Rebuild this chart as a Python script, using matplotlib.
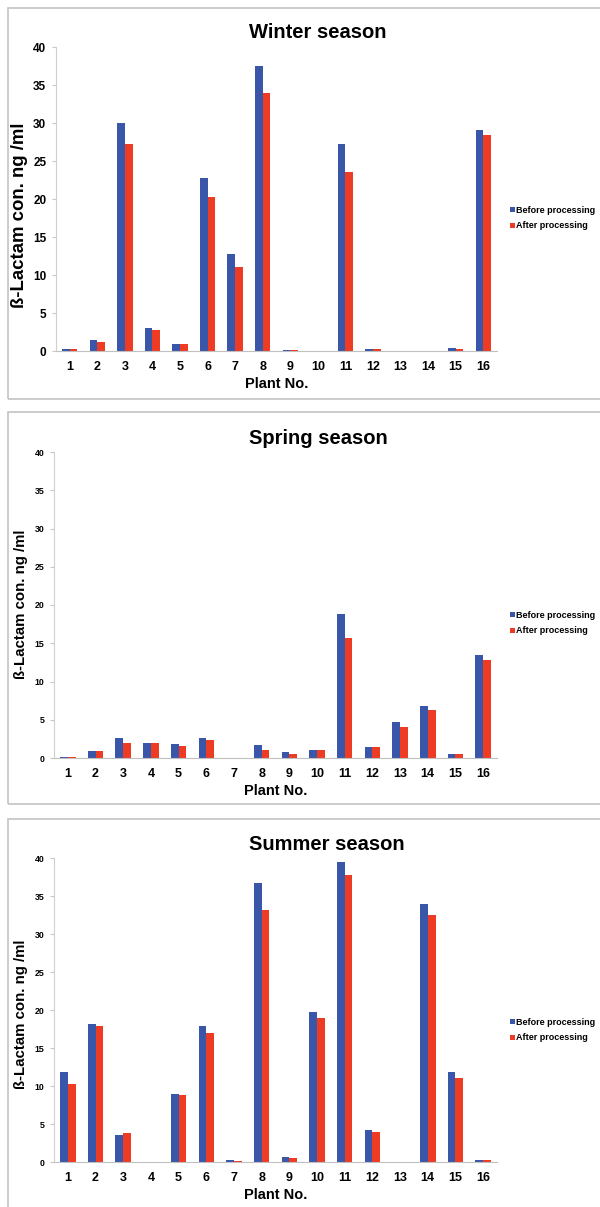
import numpy as np
import matplotlib
matplotlib.use("Agg")
import matplotlib.pyplot as plt
from matplotlib.patches import Rectangle

plt.rcParams['font.family'] = ['Liberation Sans', 'DejaVu Sans']
plt.rcParams['font.weight'] = 'bold'

plants = [str(i) for i in range(1, 17)]
series_names = ['Before processing', 'After processing']

winter_before = [0.2, 1.5, 30.0, 3.0, 0.9, 22.8, 12.7, 37.5, 0.1, 0.0, 27.2, 0.3, 0.0, 0.0, 0.4, 29.1]
winter_after = [0.2, 1.2, 27.3, 2.7, 0.9, 20.3, 11.1, 33.9, 0.1, 0.0, 23.6, 0.25, 0.0, 0.0, 0.25, 28.4]

spring_before = [0.15, 0.9, 2.6, 2.0, 1.8, 2.6, 0.0, 1.7, 0.8, 1.1, 18.8, 1.5, 4.7, 6.8, 0.5, 13.5]
spring_after = [0.15, 0.85, 2.0, 2.0, 1.6, 2.3, 0.0, 1.1, 0.5, 1.0, 15.7, 1.4, 4.0, 6.3, 0.5, 12.8]

summer_before = [11.9, 18.1, 3.6, 0.0, 9.0, 17.9, 0.3, 36.7, 0.6, 19.7, 39.5, 4.2, 0.0, 33.9, 11.9, 0.2]
summer_after = [10.3, 17.9, 3.8, 0.0, 8.8, 17.0, 0.1, 33.1, 0.5, 19.0, 37.7, 3.9, 0.0, 32.5, 11.0, 0.2]

titles = ['Winter season', 'Spring season', 'Summer season']
blue = '#3a56a8'
red = '#ee3b24'

W, H = 600, 1207
fig = plt.figure(figsize=(W / 100, H / 100), dpi=100)

# pixels: border top/bottom, axes left/top/bottom, title x/y, legend y, ytick size, ylabel size, ylabel centre y
panels = [
    (8, 399, 56, 47, 351, 318, 33, 211, 8.5, 13.4, 215),
    (412, 804, 54, 452, 758, 318, 438, 616, 6.3, 10.8, 604),
    (819, 1215, 54, 858, 1162, 327, 845, 1023, 6.3, 10.8, 1014),
]
data = [(winter_before, winter_after), (spring_before, spring_after), (summer_before, summer_after)]

x = np.arange(len(plants))
bw = 0.28

for p, (before, after), title in zip(panels, data, titles):
    btop, bbot, left, top, bottom, tx, ty, ly, yts, yls, lcy = p
    fig.patches.append(Rectangle((8 / W, 1 - bbot / H), 620 / W, (bbot - btop) / H,
                                 transform=fig.transFigure, fill=False,
                                 edgecolor='#c4c4c4', linewidth=1.2))
    ax = fig.add_axes([left / W, 1 - bottom / H, (497 - left) / W, (bottom - top) / H])
    ax.bar(x - bw / 2, before, bw, color=blue, label=series_names[0])
    ax.bar(x + bw / 2, after, bw, color=red, label=series_names[1])
    ax.set_xlim(-0.5, len(plants) - 0.5)
    ax.set_ylim(0, 40)
    ax.set_yticks(range(0, 41, 5))
    ax.set_xticks(x)
    ax.set_xticklabels(plants, fontsize=9, fontweight='bold')
    ax.tick_params(axis='y', labelsize=yts, length=3, color='#c8c8c8', pad=4)
    ax.tick_params(axis='x', length=0, pad=7)
    for s in ['top', 'right']:
        ax.spines[s].set_visible(False)
    ax.spines['left'].set_color('#d0d0d0')
    ax.spines['bottom'].set_color('#c0c0c0')
    ax.set_xlabel('Plant No.', fontsize=10.5, fontweight='bold', labelpad=3)
    ax.set_ylabel('ß-Lactam con. ng /ml', fontsize=yls, fontweight='bold')
    ax.yaxis.set_label_coords(28 / W, 1 - lcy / H, transform=fig.transFigure)
    fig.text(tx / W, 1 - ty / H, title, ha='center', va='center', fontsize=14.5, fontweight='bold')
    ax.legend(loc='center left', bbox_to_anchor=(510 / W, 1 - (ly + 7) / H),
              bbox_transform=fig.transFigure, frameon=False, fontsize=6.5,
              handlelength=0.5, handleheight=0.5, handletextpad=0.2, labelspacing=0.75,
              borderaxespad=0, borderpad=0)

fig.savefig('out.png', dpi=100)
